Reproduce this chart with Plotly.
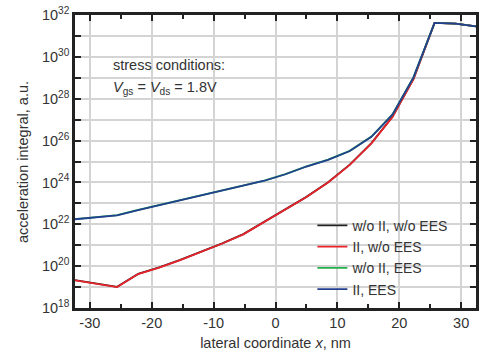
import plotly.graph_objects as go

x_nm = [-32.4, -29.0, -25.6, -22.2, -18.8, -15.4, -12.0, -8.6, -5.2, -1.8,
        1.6, 5.0, 8.5, 12.0, 15.5, 18.9, 22.3, 25.7, 29.1, 32.4]

# log10 of acceleration integral
log_ii_noees = [19.32, 19.16, 19.00, 19.62, 19.93, 20.29, 20.68, 21.08, 21.52, 22.12,
                22.68, 23.30, 24.00, 24.84, 25.87, 27.13, 28.94, 31.62, 31.59, 31.46]
log_noii_noees = [19.33, 19.17, 19.01, 19.63, 19.94, 20.30, 20.69, 21.09, 21.53, 22.13,
                  22.69, 23.31, 24.01, 24.85, 25.88, 27.14, 28.95, 31.62, 31.59, 31.46]
log_ii_ees = [22.24, 22.33, 22.43, 22.68, 22.91, 23.14, 23.37, 23.60, 23.84, 24.08,
              24.39, 24.76, 25.08, 25.50, 26.18, 27.24, 29.02, 31.62, 31.59, 31.46]
log_noii_ees = [22.25, 22.34, 22.44, 22.69, 22.92, 23.15, 23.38, 23.61, 23.85, 24.09,
                24.40, 24.77, 25.09, 25.51, 26.19, 27.25, 29.03, 31.62, 31.59, 31.46]

series = [
    ("w/o II, w/o EES", log_noii_noees, "#222222"),
    ("II, w/o EES", log_ii_noees, "#e8232b"),
    ("w/o II, EES", log_noii_ees, "#22b14c"),
    ("II, EES", log_ii_ees, "#233f8f"),
]

decades = list(range(18, 33))
ytickvals = [10.0 ** d for d in decades]
yticktext = [f"10<sup>{d}</sup>" if d % 2 == 0 else "" for d in decades]
xtickvals = [-30, -20, -10, 0, 10, 20, 30]
xticktext = ["-30", "-20", "-10", "0", "10", "20", "30"]

fig = go.Figure()
for name, vals, col in series:
    fig.add_trace(go.Scatter(
        x=x_nm, y=[10.0 ** v for v in vals], mode="lines", name=name,
        line=dict(color=col, width=1.8)))

font = "Liberation Sans, Arial, sans-serif"
fig.update_layout(
    width=484, height=358,
    margin=dict(l=75, r=5, t=12, b=50),
    paper_bgcolor="white", plot_bgcolor="white",
    font=dict(family=font, size=14, color="#333333"),
    showlegend=True,
    legend=dict(x=0.592, y=0.335, xanchor="left", yanchor="top",
                bgcolor="rgba(0,0,0,0)", font=dict(size=14, color="#333333"),
                tracegroupgap=0, itemwidth=30),
    xaxis=dict(range=[-32.4, 32.4], tickvals=xtickvals, ticktext=xticktext,
               ticks="inside", ticklen=6,
               tickwidth=2, tickcolor="#222222",
               showline=True, linecolor="#222222", linewidth=2.5, mirror="allticks",
               showgrid=True, gridcolor="#d4d4d4", gridwidth=1.5, zeroline=False,
               minor=dict(tickvals=[-25, -15, -5, 5, 15, 25], ticks="inside",
                          ticklen=4, tickwidth=1.5, tickcolor="#222222", showgrid=False),
               tickfont=dict(size=14.5),
               title=dict(text="lateral coordinate <i>x</i>, nm", font=dict(size=14.5),
                          standoff=8)),
    yaxis=dict(type="log", range=[18, 32], tickvals=ytickvals, ticktext=yticktext,
               ticks="inside", ticklen=6, tickwidth=2, tickcolor="#222222",
               showline=True, linecolor="#222222", linewidth=2.5, mirror="allticks",
               showgrid=True, gridcolor="#d4d4d4", gridwidth=1.5, zeroline=False,
               tickfont=dict(size=14.5)),
    annotations=[
        dict(x=-0.131, y=0.5, xref="paper", yref="paper", xanchor="center", yanchor="middle",
             text="acceleration integral, a.u.", textangle=-90, showarrow=False,
             font=dict(size=14.5, color="#333333")),
        dict(x=-26.6, y=29.6, xref="x", yref="y", xanchor="left", yanchor="middle",
             text="stress conditions:", showarrow=False, font=dict(size=14.5, color="#333333")),
        dict(x=-26.6, y=28.52, xref="x", yref="y", xanchor="left", yanchor="middle",
             text="<i>V</i><sub>gs</sub> = <i>V</i><sub>ds</sub> = 1.8V", showarrow=False,
             font=dict(size=14.5, color="#333333")),
    ],
)

fig.write_html("out.html")
